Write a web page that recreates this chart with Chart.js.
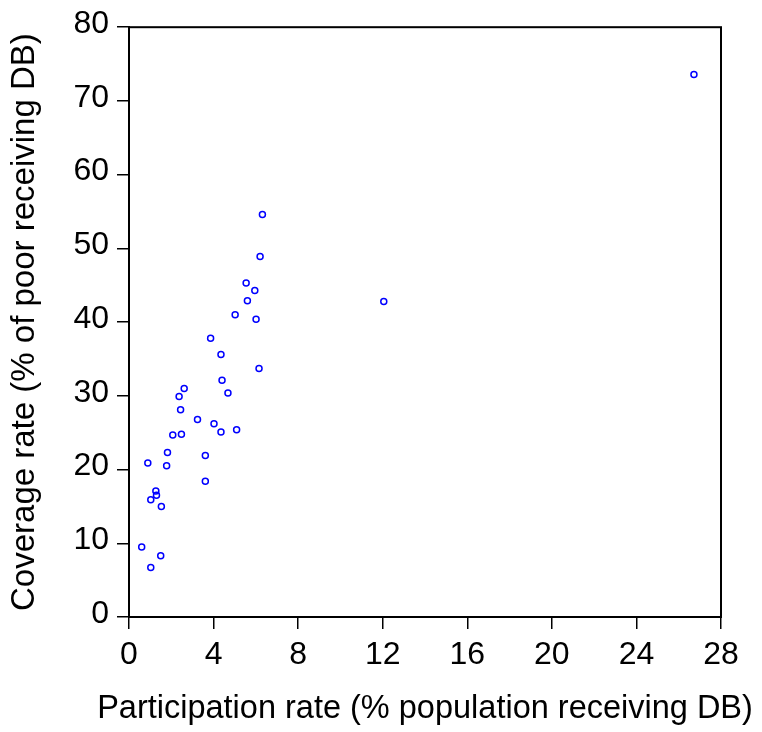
<!DOCTYPE html>
<html>
<head>
<meta charset="utf-8">
<script src="https://cdn.jsdelivr.net/npm/chart.js@4"></script>
<style>
  body { margin: 0; background: #fff; }
  canvas { display: block; }
</style>
</head>
<body>
<canvas id="myChart" width="762" height="732"></canvas>
<script>
// participation rate (% population receiving DB)
var participacion = [26.72, 12.05, 6.31, 6.20, 5.54, 5.95, 5.60, 5.02, 6.01, 3.86,
    4.35, 6.15, 4.40, 2.61, 4.68, 2.37, 2.44, 3.24, 4.02, 4.35,
    5.09, 2.07, 2.48, 1.82, 3.61, 0.89, 1.78, 3.61, 1.27, 1.30,
    1.03, 1.53, 0.60, 1.50, 1.03];
// coverage rate (% of poor receiving DB)
var cobertura = [73.6, 42.8, 54.6, 48.9, 45.3, 44.3, 42.9, 41.0, 40.4, 37.8,
    35.6, 33.7, 32.1, 31.0, 30.4, 29.9, 28.1, 26.8, 26.2, 25.1,
    25.4, 24.7, 24.8, 22.3, 21.9, 20.9, 20.5, 18.4, 17.1, 16.5,
    15.9, 15.0, 9.5, 8.3, 6.7];
var ticksX = [0, 4, 8, 12, 16, 20, 24, 28];
var ticksY = [0, 10, 20, 30, 40, 50, 60, 70, 80];
var tituloX = 'Participation rate (% population receiving DB)';
var tituloY = 'Coverage rate (% of poor receiving DB)';

var puntos = [];
for (var i = 0; i < participacion.length; i++) {
    puntos.push({x: participacion[i], y: cobertura[i]});
}

var fuente = "'Liberation Sans', Arial, sans-serif";

// marco negro alrededor del area del grafico + titulo del eje x
// (el titulo de chart.js se aprieta al ancho del eje, por eso va aqui)
var marco = {
    id: 'marco',
    afterDraw: function (chart) {
        var a = chart.chartArea;
        var ctx = chart.ctx;
        ctx.save();
        ctx.strokeStyle = '#000';
        ctx.lineWidth = 2;
        ctx.strokeRect(a.left, a.top, a.right - a.left, a.bottom - a.top);
        ctx.fillStyle = '#000';
        ctx.font = '32.5px ' + fuente;
        ctx.textAlign = 'center';
        ctx.textBaseline = 'middle';
        ctx.fillText(tituloX, (a.left + a.right) / 2, 709);
        ctx.restore();
    }
};

var ctx = document.getElementById('myChart').getContext('2d');
var myChart = new Chart(ctx, {
    type: 'scatter',
    data: {
        datasets: [{
            data: puntos,
            pointStyle: 'circle',
            pointRadius: 3,
            pointBorderWidth: 1.5,
            pointBackgroundColor: 'rgba(0,0,0,0)',
            pointBorderColor: '#0000ff'
        }]
    },
    options: {
        responsive: false,
        animation: false,
        layout: { padding: { top: 25, right: 41, left: 0, bottom: 0 } },
        plugins: { legend: { display: false }, tooltip: { enabled: false } },
        scales: {
            x: {
                type: 'linear',
                min: 0, max: 28,
                afterBuildTicks: function (s) { s.ticks = ticksX.map(function (v) { return {value: v}; }); },
                afterFit: function (s) { s.height = 115; },
                grid: { drawOnChartArea: false, drawTicks: true, tickLength: 12, color: '#000', lineWidth: 1.5 },
                border: { display: true, color: '#000', width: 2 },
                ticks: { color: '#000', font: { family: fuente, size: 32 }, padding: 7, maxRotation: 0 },
                title: { display: false }
            },
            y: {
                type: 'linear',
                min: 0, max: 80,
                afterBuildTicks: function (s) { s.ticks = ticksY.map(function (v) { return {value: v}; }); },
                afterFit: function (s) { s.width = 129; },
                grid: { drawOnChartArea: false, drawTicks: true, tickLength: 12, color: '#000', lineWidth: 1.5 },
                border: { display: true, color: '#000', width: 2 },
                ticks: { color: '#000', font: { family: fuente, size: 32 }, padding: 8, labelOffset: -3 },
                title: { display: true, text: tituloY, color: '#000',
                    font: { family: fuente, size: 33 }, padding: { top: 5.5, bottom: 0 } }
            }
        }
    },
    plugins: [marco]
});
</script>
</body>
</html>
